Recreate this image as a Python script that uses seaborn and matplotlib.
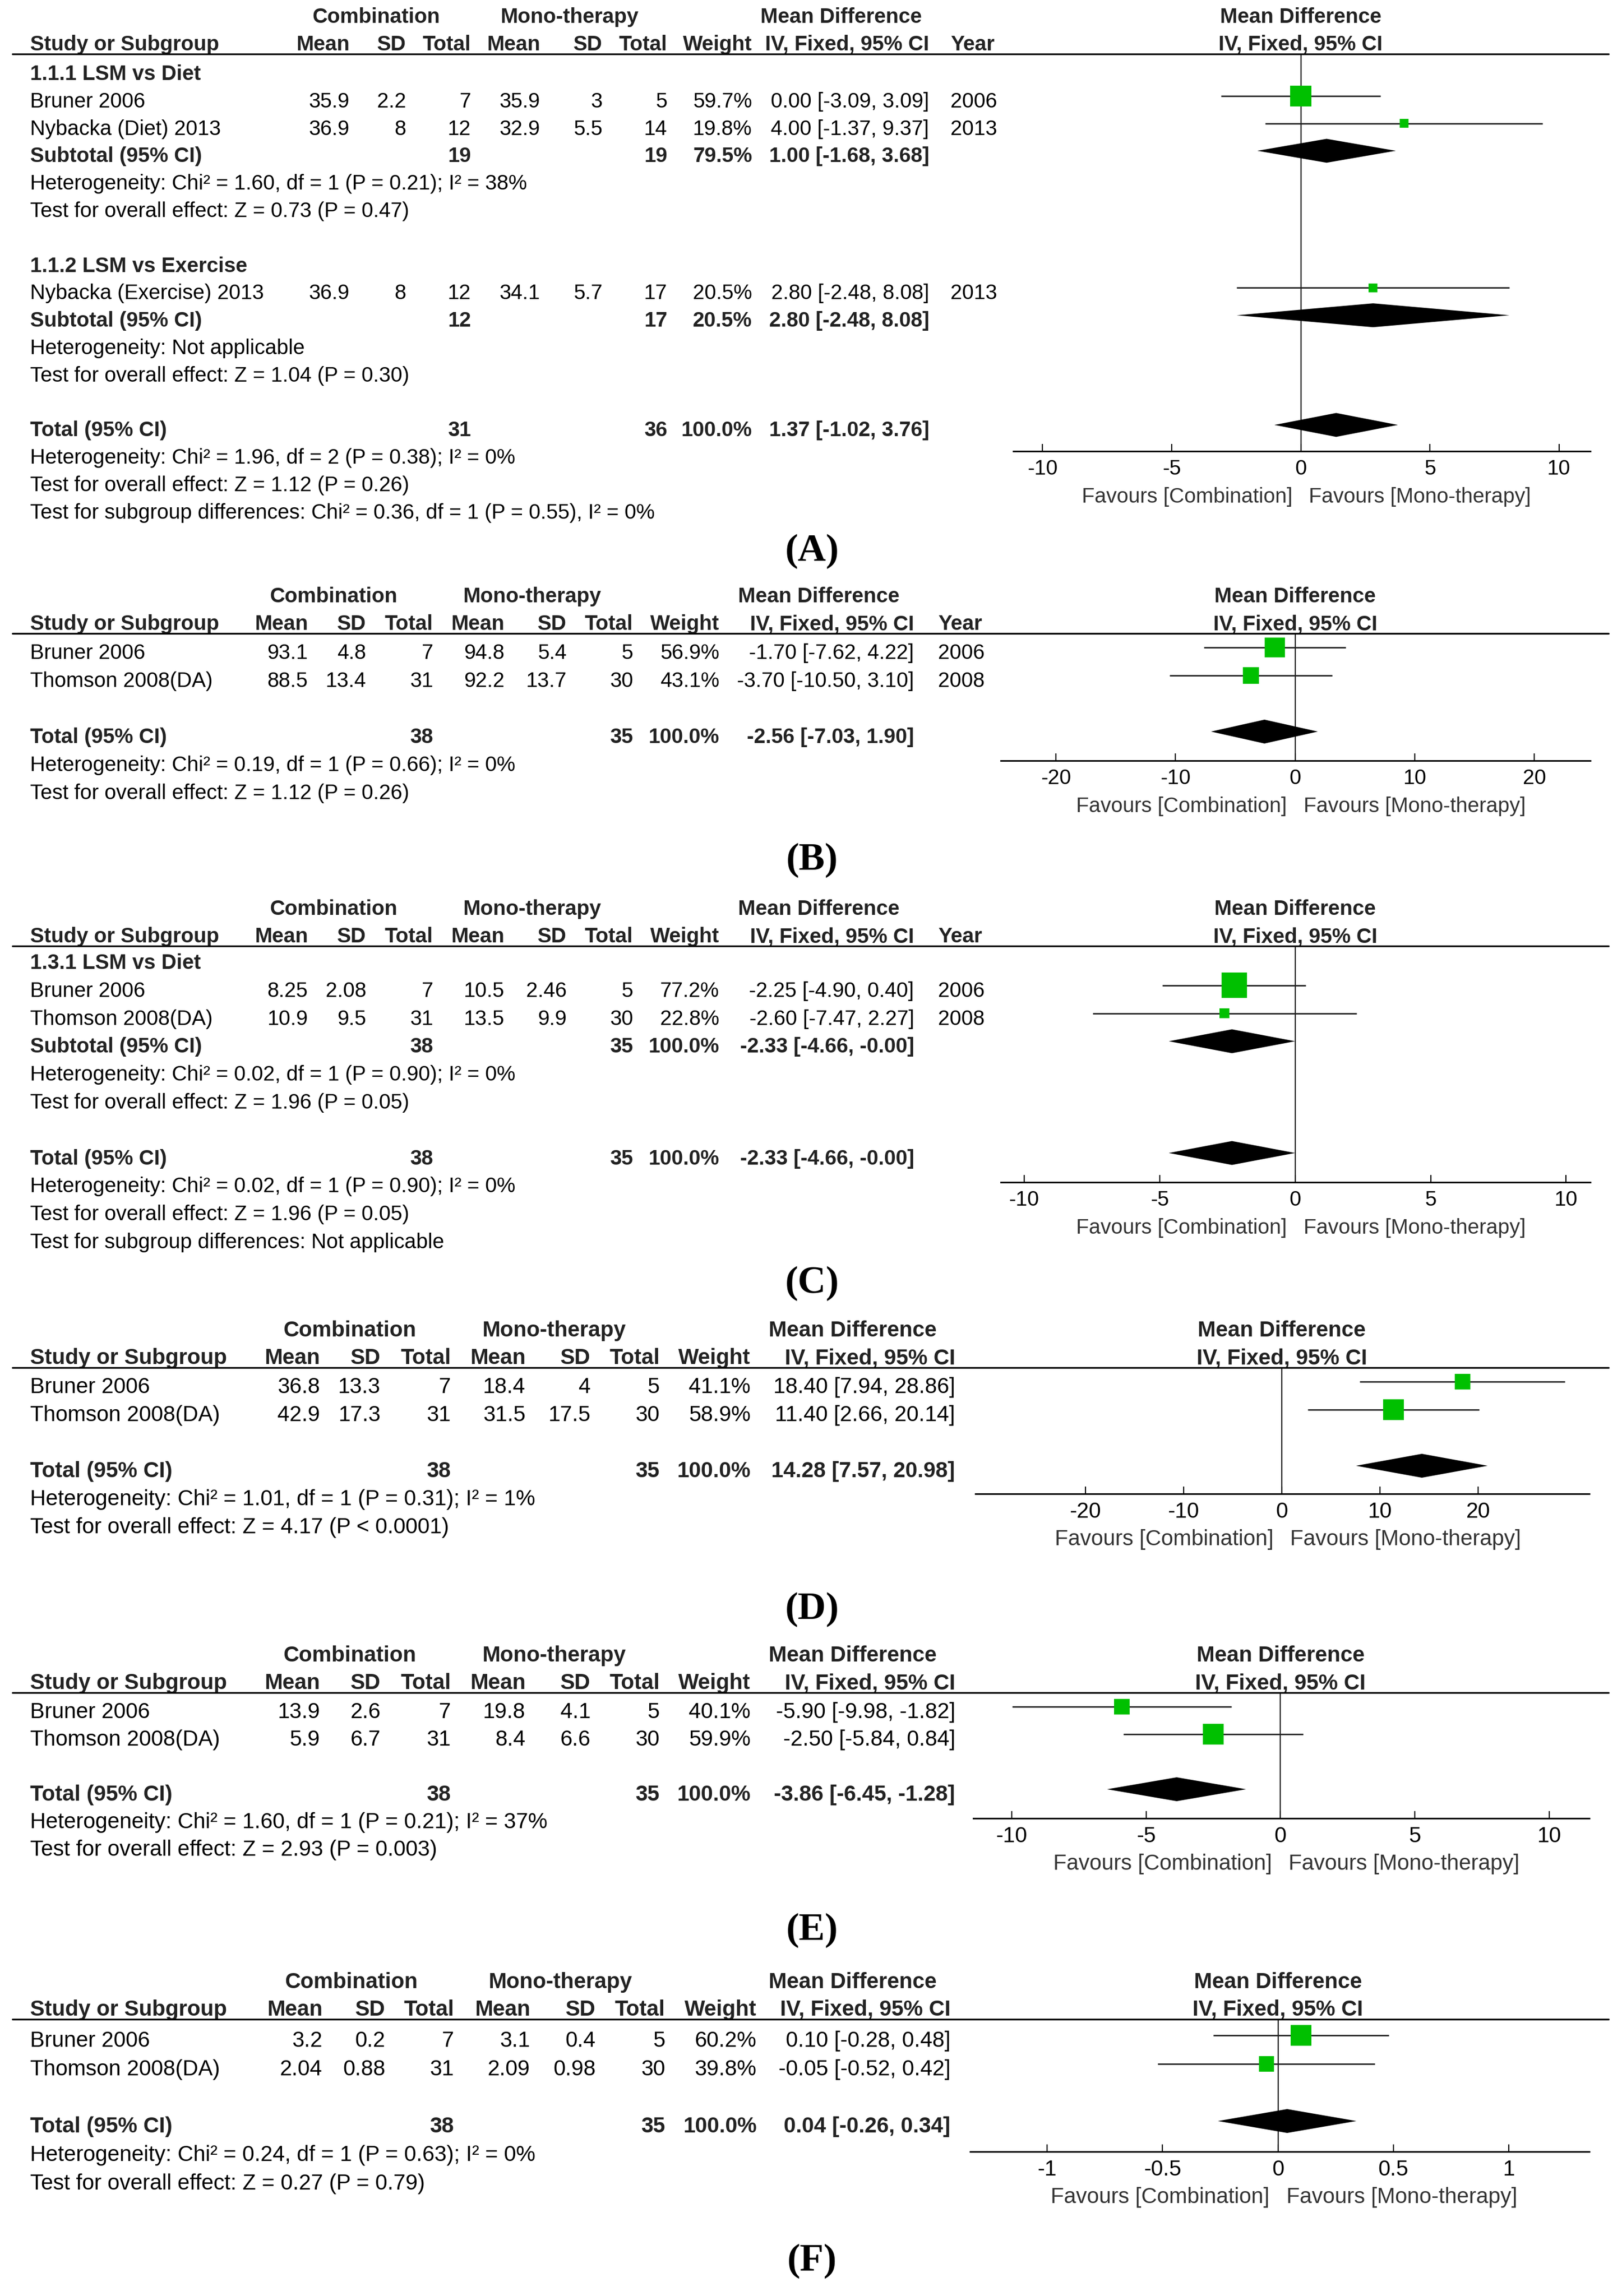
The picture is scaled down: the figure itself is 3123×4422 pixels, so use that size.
import numpy as np
import matplotlib
matplotlib.use('Agg')
import matplotlib.pyplot as plt
import matplotlib.transforms as mtransforms
from matplotlib.lines import Line2D
import seaborn as sns

sns.set_theme(style='white')
plt.rcParams['font.family'] = ['Liberation Sans', 'DejaVu Sans']
plt.rcParams['text.color'] = 'black'

W, H, DPI = 3123, 4422, 100
GREEN = '#00c000'

#################################################
# (A) two subgroups
#################################################
A_study = ['Bruner 2006', 'Nybacka (Diet) 2013', 'Nybacka (Exercise) 2013']
A_group = [0, 0, 1]
A_c_mean = [35.9, 36.9, 36.9]
A_c_sd = [2.2, 8, 8]
A_c_n = [7, 12, 12]
A_m_mean = [35.9, 32.9, 34.1]
A_m_sd = [3, 5.5, 5.7]
A_m_n = [5, 14, 17]
A_weight = [59.7, 19.8, 20.5]
A_md = [0.00, 4.00, 2.80]
A_lo = [-3.09, -1.37, -2.48]
A_hi = [3.09, 9.37, 8.08]
A_year = [2006, 2013, 2013]
A_sub_name = ['1.1.1 LSM vs Diet', '1.1.2 LSM vs Exercise']
A_sub_n = [[19, 19], [12, 17]]
A_sub_weight = [79.5, 20.5]
A_sub_md = [1.00, 2.80]
A_sub_lo = [-1.68, -2.48]
A_sub_hi = [3.68, 8.08]
A_sub_notes = [['Heterogeneity: Chi² = 1.60, df = 1 (P = 0.21); I² = 38%',
                'Test for overall effect: Z = 0.73 (P = 0.47)'],
               ['Heterogeneity: Not applicable',
                'Test for overall effect: Z = 1.04 (P = 0.30)']]
A_total_n = [31, 36]
A_total_md = [1.37, -1.02, 3.76]
A_notes = ['Heterogeneity: Chi² = 1.96, df = 2 (P = 0.38); I² = 0%',
           'Test for overall effect: Z = 1.12 (P = 0.26)',
           'Test for subgroup differences: Chi² = 0.36, df = 1 (P = 0.55), I² = 0%']
A_ticks = [-10, -5, 0, 5, 10]

#################################################
# (B)
#################################################
B_study = ['Bruner 2006', 'Thomson 2008(DA)']
B_c_mean = [93.1, 88.5]
B_c_sd = [4.8, 13.4]
B_c_n = [7, 31]
B_m_mean = [94.8, 92.2]
B_m_sd = [5.4, 13.7]
B_m_n = [5, 30]
B_weight = [56.9, 43.1]
B_md = [-1.70, -3.70]
B_lo = [-7.62, -10.50]
B_hi = [4.22, 3.10]
B_year = [2006, 2008]
B_total_n = [38, 35]
B_total_md = [-2.56, -7.03, 1.90]
B_notes = ['Heterogeneity: Chi² = 0.19, df = 1 (P = 0.66); I² = 0%',
           'Test for overall effect: Z = 1.12 (P = 0.26)']
B_ticks = [-20, -10, 0, 10, 20]

#################################################
# (C) one subgroup
#################################################
C_study = ['Bruner 2006', 'Thomson 2008(DA)']
C_group = [0, 0]
C_c_mean = [8.25, 10.9]
C_c_sd = [2.08, 9.5]
C_c_n = [7, 31]
C_m_mean = [10.5, 13.5]
C_m_sd = [2.46, 9.9]
C_m_n = [5, 30]
C_weight = [77.2, 22.8]
C_md = [-2.25, -2.60]
C_lo = [-4.90, -7.47]
C_hi = [0.40, 2.27]
C_year = [2006, 2008]
C_sub_name = ['1.3.1 LSM vs Diet']
C_sub_n = [[38, 35]]
C_sub_weight = [100.0]
C_sub_md = [-2.33]
C_sub_lo = [-4.66]
C_sub_hi = [-0.0]
C_sub_notes = [['Heterogeneity: Chi² = 0.02, df = 1 (P = 0.90); I² = 0%',
                'Test for overall effect: Z = 1.96 (P = 0.05)']]
C_total_n = [38, 35]
C_total_md = [-2.33, -4.66, -0.0]
C_notes = ['Heterogeneity: Chi² = 0.02, df = 1 (P = 0.90); I² = 0%',
           'Test for overall effect: Z = 1.96 (P = 0.05)',
           'Test for subgroup differences: Not applicable']
C_ticks = [-10, -5, 0, 5, 10]

#################################################
# (D)
#################################################
D_study = ['Bruner 2006', 'Thomson 2008(DA)']
D_c_mean = [36.8, 42.9]
D_c_sd = [13.3, 17.3]
D_c_n = [7, 31]
D_m_mean = [18.4, 31.5]
D_m_sd = [4, 17.5]
D_m_n = [5, 30]
D_weight = [41.1, 58.9]
D_md = [18.40, 11.40]
D_lo = [7.94, 2.66]
D_hi = [28.86, 20.14]
D_total_n = [38, 35]
D_total_md = [14.28, 7.57, 20.98]
D_notes = ['Heterogeneity: Chi² = 1.01, df = 1 (P = 0.31); I² = 1%',
           'Test for overall effect: Z = 4.17 (P < 0.0001)']
D_ticks = [-20, -10, 0, 10, 20]

#################################################
# (E)
#################################################
E_study = ['Bruner 2006', 'Thomson 2008(DA)']
E_c_mean = [13.9, 5.9]
E_c_sd = [2.6, 6.7]
E_c_n = [7, 31]
E_m_mean = [19.8, 8.4]
E_m_sd = [4.1, 6.6]
E_m_n = [5, 30]
E_weight = [40.1, 59.9]
E_md = [-5.90, -2.50]
E_lo = [-9.98, -5.84]
E_hi = [-1.82, 0.84]
E_total_n = [38, 35]
E_total_md = [-3.86, -6.45, -1.28]
E_notes = ['Heterogeneity: Chi² = 1.60, df = 1 (P = 0.21); I² = 37%',
           'Test for overall effect: Z = 2.93 (P = 0.003)']
E_ticks = [-10, -5, 0, 5, 10]

#################################################
# (F)
#################################################
F_study = ['Bruner 2006', 'Thomson 2008(DA)']
F_c_mean = [3.2, 2.04]
F_c_sd = [0.2, 0.88]
F_c_n = [7, 31]
F_m_mean = [3.1, 2.09]
F_m_sd = [0.4, 0.98]
F_m_n = [5, 30]
F_weight = [60.2, 39.8]
F_md = [0.10, -0.05]
F_lo = [-0.28, -0.52]
F_hi = [0.48, 0.42]
F_total_n = [38, 35]
F_total_md = [0.04, -0.26, 0.34]
F_notes = ['Heterogeneity: Chi² = 0.24, df = 1 (P = 0.63); I² = 0%',
           'Test for overall effect: Z = 0.27 (P = 0.79)']
F_ticks = [-1, -0.5, 0, 0.5, 1]


def panel(study, c_mean, c_sd, c_n, m_mean, m_sd, m_n, weight, md, lo, hi,
          total_n, total_md, notes, ticks, year=None, group=None, sub_name=None,
          sub_n=None, sub_weight=None, sub_md=None, sub_lo=None, sub_hi=None, sub_notes=None):
    return dict(study=study, c_mean=c_mean, c_sd=c_sd, c_n=c_n, m_mean=m_mean, m_sd=m_sd,
                m_n=m_n, weight=weight, md=md, lo=lo, hi=hi, total_n=total_n,
                total_md=total_md, notes=notes, ticks=ticks, year=year, group=group,
                sub_name=sub_name, sub_n=sub_n, sub_weight=sub_weight, sub_md=sub_md,
                sub_lo=sub_lo, sub_hi=sub_hi, sub_notes=sub_notes)


panels = [
    panel(A_study, A_c_mean, A_c_sd, A_c_n, A_m_mean, A_m_sd, A_m_n, A_weight, A_md, A_lo, A_hi,
          A_total_n, A_total_md, A_notes, A_ticks, A_year, A_group, A_sub_name, A_sub_n,
          A_sub_weight, A_sub_md, A_sub_lo, A_sub_hi, A_sub_notes),
    panel(B_study, B_c_mean, B_c_sd, B_c_n, B_m_mean, B_m_sd, B_m_n, B_weight, B_md, B_lo, B_hi,
          B_total_n, B_total_md, B_notes, B_ticks, B_year),
    panel(C_study, C_c_mean, C_c_sd, C_c_n, C_m_mean, C_m_sd, C_m_n, C_weight, C_md, C_lo, C_hi,
          C_total_n, C_total_md, C_notes, C_ticks, C_year, C_group, C_sub_name, C_sub_n,
          C_sub_weight, C_sub_md, C_sub_lo, C_sub_hi, C_sub_notes),
    panel(D_study, D_c_mean, D_c_sd, D_c_n, D_m_mean, D_m_sd, D_m_n, D_weight, D_md, D_lo, D_hi,
          D_total_n, D_total_md, D_notes, D_ticks),
    panel(E_study, E_c_mean, E_c_sd, E_c_n, E_m_mean, E_m_sd, E_m_n, E_weight, E_md, E_lo, E_hi,
          E_total_n, E_total_md, E_notes, E_ticks),
    panel(F_study, F_c_mean, F_c_sd, F_c_n, F_m_mean, F_m_sd, F_m_n, F_weight, F_md, F_lo, F_hi,
          F_total_n, F_total_md, F_notes, F_ticks),
]

# layout in pixels of the final image (kept apart from the data)
cols_abc = [593, 705, 834, 971, 1091, 1219, 1385, 1760]
cols_de = [616, 733, 868, 1012, 1137, 1270, 1445, 1839]
layouts = [
    dict(tag='(A)', fs=29, line=104, first=39, pitch=52.8, axis_off=765, left=1951, right=3062,
         zero=2504.5, ppu=49.72, cols=[673, 782, 907, 1040, 1160, 1285, 1448, 1789],
         year_x=1830, comb=724, mono=1096, mdc=1619, label_y=1062),
    dict(tag='(B)', fs=29, line=1220, first=38, pitch=54, axis_off=245, left=1927, right=3062,
         zero=2493.6, ppu=23.03, cols=cols_abc, year_x=1806, comb=642, mono=1024,
         mdc=1576, label_y=1657),
    dict(tag='(C)', fs=29, line=1822, first=33, pitch=53.8, axis_off=455, left=1927, right=3062,
         zero=2493.6, ppu=52.18, cols=cols_abc, year_x=1806, comb=642, mono=1024,
         mdc=1576, label_y=2472),
    dict(tag='(D)', fs=30.2, line=2634, first=38, pitch=54, axis_off=243, left=1878, right=3060,
         zero=2467.8, ppu=18.9, cols=cols_de, year_x=None, comb=673, mono=1067,
         mdc=1642, label_y=3100),
    dict(tag='(E)', fs=30.2, line=3260, first=38, pitch=53, axis_off=242, left=1874, right=3060,
         zero=2465.4, ppu=51.76, cols=cols_de, year_x=None, comb=673, mono=1067,
         mdc=1642, label_y=3718),
    dict(tag='(F)', fs=30.2, line=3889, first=42, pitch=55, axis_off=255, left=1868, right=3060,
         zero=2460.5, ppu=444.5, cols=[621, 742, 874, 1021, 1147, 1281, 1457, 1830],
         year_x=None, comb=676, mono=1079, mdc=1642, label_y=4355),
]


def build_rows(d):
    rows, r = [], 0
    idx = np.arange(len(d['study']))
    if d['sub_name']:
        for g, name in enumerate(d['sub_name']):
            rows.append(('head', g, r)); r += 1
            for i in idx[np.array(d['group']) == g]:
                rows.append(('study', i, r)); r += 1
            rows.append(('sub', g, r)); r += 1
            for note in d['sub_notes'][g]:
                rows.append(('note', note, r)); r += 1
            r += 1
    else:
        for i in idx:
            rows.append(('study', i, r)); r += 1
        r += 1
    rows.append(('total', None, r)); r += 1
    for note in d['notes']:
        rows.append(('note', note, r)); r += 1
    return rows


def ci_text(m, l, h):
    return f'{m:.2f} [{l:.2f}, {h:.2f}]'


def draw_panel(fig, d, L):
    line, pitch, fs = L['line'], L['pitch'], L['fs']
    axis_y = line + L['axis_off']
    base = line + L['first'] - 11       # pixel row of the marks of row 0
    to_u = lambda y: (y - base) / pitch
    toff = 11 / pitch                   # text sits a little below the marks

    ax = fig.add_axes([L['left'] / W, 1 - axis_y / H,
                       (L['right'] - L['left']) / W, (axis_y - line) / H])
    ax.set_xlim((L['left'] - L['zero']) / L['ppu'], (L['right'] - L['zero']) / L['ppu'])
    ax.set_ylim(to_u(axis_y), to_u(line))
    ax.patch.set_alpha(0)
    for s in ['left', 'right', 'top']:
        ax.spines[s].set_visible(False)
    ax.spines['bottom'].set_linewidth(2.2)
    ax.spines['bottom'].set_color('black')
    ax.set_yticks([])
    ax.set_xticks(d['ticks'])
    ax.set_xticklabels([f'{t:g}' for t in d['ticks']])
    ax.tick_params(axis='x', direction='in', length=10, width=1.6, pad=11,
                   labelsize=fs, colors='black', bottom=True)
    ax.axvline(0, color='black', lw=1.5, zorder=1)

    tr = mtransforms.blended_transform_factory(fig.transFigure, ax.transData)

    def put(xpx, u, s, ha='right', bold=False, color='black'):
        ax.text(xpx / W, u, s, transform=tr, ha=ha, va='center', fontsize=fs,
                fontweight='bold' if bold else 'normal', color=color)

    cols = L['cols']
    # column headers
    u1, u2 = to_u(line - 71), to_u(line - 18)
    hc = '#222222'
    put(L['comb'], u1, 'Combination', 'center', True, hc)
    put(L['mono'], u1, 'Mono-therapy', 'center', True, hc)
    put(L['mdc'], u1, 'Mean Difference', 'center', True, hc)
    put(58, u2, 'Study or Subgroup', 'left', True, hc)
    for x, s in zip(cols, ['Mean', 'SD', 'Total', 'Mean', 'SD', 'Total', 'Weight',
                           'IV, Fixed, 95% CI']):
        put(x, u2, s, 'right', True, hc)
    if L['year_x'] is not None:
        put(L['year_x'], u2, 'Year', 'left', True, hc)
    ax.text(0, u1, 'Mean Difference', ha='center', va='center', fontsize=fs,
            fontweight='bold', color=hc)
    ax.text(0, u2, 'IV, Fixed, 95% CI', ha='center', va='center', fontsize=fs,
            fontweight='bold', color=hc)
    fig.add_artist(Line2D([24 / W, 3097 / W], [1 - line / H] * 2, color='black', lw=2.4))

    rows = build_rows(d)
    st_r, st_i, dia = [], [], []
    for kind, key, r in rows:
        u = r + toff
        if kind == 'head':
            put(58, u, d['sub_name'][key], 'left', True, hc)
        elif kind == 'note':
            put(58, u, key, 'left')
        elif kind == 'study':
            i = key
            put(58, u, d['study'][i], 'left')
            vals = [f"{d['c_mean'][i]:g}", f"{d['c_sd'][i]:g}", f"{d['c_n'][i]}",
                    f"{d['m_mean'][i]:g}", f"{d['m_sd'][i]:g}", f"{d['m_n'][i]}",
                    f"{d['weight'][i]:.1f}%", ci_text(d['md'][i], d['lo'][i], d['hi'][i])]
            for x, s in zip(cols, vals):
                put(x, u, s)
            if d['year'] is not None:
                put(L['year_x'], u, str(d['year'][i]), 'left')
            st_r.append(r)
            st_i.append(i)
        else:
            if kind == 'sub':
                g = key
                label, n, w = 'Subtotal (95% CI)', d['sub_n'][g], d['sub_weight'][g]
                m, l, h = d['sub_md'][g], d['sub_lo'][g], d['sub_hi'][g]
            else:
                label, n, w = 'Total (95% CI)', d['total_n'], 100.0
                m, l, h = d['total_md']
            put(58, u, label, 'left', True, hc)
            put(cols[2], u, str(n[0]), 'right', True, hc)
            put(cols[5], u, str(n[1]), 'right', True, hc)
            put(cols[6], u, f'{w:.1f}%', 'right', True, hc)
            put(cols[7], u, ci_text(m, l, h), 'right', True, hc)
            dia.append((r, m, l, h))

    # study confidence intervals and weighted squares
    md = np.array(d['md'])[st_i]
    lo = np.array(d['lo'])[st_i]
    hi = np.array(d['hi'])[st_i]
    w = np.array(d['weight'])[st_i]
    for r, a, b in zip(st_r, lo, hi):
        ax.plot([a, b], [r, r], color='#222222', lw=2.0, zorder=2, solid_capstyle='butt')
    side_pt = 1.65 * w ** 0.78 * 72 / DPI
    sns.scatterplot(x=md, y=np.array(st_r, dtype=float), s=side_pt ** 2, marker='s',
                    color=GREEN, linewidth=0, legend=False, ax=ax, zorder=4)
    # pooled diamonds
    hh = 23 / pitch
    for r, m, l, h in dia:
        ax.fill([l, m, h, m], [r, r - hh, r, r + hh], color='black', lw=0, zorder=5)

    ax.set_xlabel('')
    ax.set_ylabel('')
    # favours labels either side of zero
    uf = to_u(axis_y + 88)
    left_tr = mtransforms.offset_copy(ax.transData, fig=fig, x=-16, y=0, units='dots')
    right_tr = mtransforms.offset_copy(ax.transData, fig=fig, x=16, y=0, units='dots')
    ax.text(0, uf, 'Favours [Combination]', ha='right', va='center', fontsize=fs,
            color='#333333', transform=left_tr)
    ax.text(0, uf, 'Favours [Mono-therapy]', ha='left', va='center', fontsize=fs,
            color='#333333', transform=right_tr)

    fig.text(1564 / W, 1 - L['label_y'] / H, L['tag'], ha='center', va='center',
             fontsize=54, fontweight='bold', family=['Liberation Serif', 'DejaVu Serif'])


fig = plt.figure(figsize=(W / DPI, H / DPI), dpi=DPI)
fig.patch.set_facecolor('white')
for d, L in zip(panels, layouts):
    draw_panel(fig, d, L)

fig.savefig('out.png', dpi=DPI, facecolor='white')
